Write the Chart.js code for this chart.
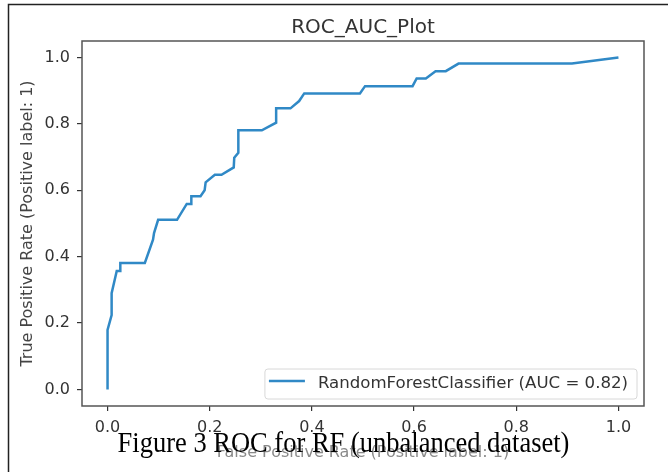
<!DOCTYPE html>
<html>
<head>
<meta charset="utf-8">
<title>ROC_AUC_Plot</title>
<script src="https://cdn.jsdelivr.net/npm/chart.js@4"></script>
<style>
  html, body { margin: 0; padding: 0; background: #fff; }
  #wrap { width: 668px; height: 472px; }
</style>
</head>
<body>
<div id="wrap"><canvas id="roc" width="668" height="472"></canvas></div>
<script>
// ROC curve (false positive rate, true positive rate)
const fpr = [0, 0, 0.008, 0.008, 0.018, 0.025, 0.025, 0.073, 0.089, 0.091, 0.099, 0.136,
  0.155, 0.164, 0.164, 0.182, 0.190, 0.192, 0.210, 0.223, 0.247, 0.248, 0.256, 0.256,
  0.302, 0.330, 0.330, 0.358, 0.375, 0.385, 0.494, 0.504, 0.597, 0.605, 0.623, 0.642,
  0.662, 0.687, 0.909, 1.0];
const tpr = [0, 0.179, 0.224, 0.290, 0.357, 0.357, 0.381, 0.381, 0.451, 0.471, 0.511, 0.511,
  0.559, 0.559, 0.582, 0.582, 0.600, 0.624, 0.647, 0.647, 0.669, 0.698, 0.713, 0.781,
  0.781, 0.804, 0.847, 0.847, 0.869, 0.892, 0.892, 0.914, 0.914, 0.937, 0.937, 0.959,
  0.959, 0.982, 0.982, 1.0];
const xTicks = [0, 0.2, 0.4, 0.6, 0.8, 1.0];
const yTicks = [0, 0.2, 0.4, 0.6, 0.8, 1.0];
const seriesLabel = 'RandomForestClassifier (AUC = 0.82)';
const plotTitle = 'ROC_AUC_Plot';
const caption = 'Figure 3 ROC for RF (unbalanced dataset)';

const FONT = "'DejaVu Sans', sans-serif";
const LINE = '#3089c6';

// page frame, title and axes box
const framePlugin = {
  id: 'frame',
  beforeDraw(chart) {
    const c = chart.ctx;
    const a = chart.chartArea;
    c.save();
    c.strokeStyle = '#222';
    c.lineWidth = 1.5;
    c.beginPath();
    c.moveTo(8.5, 472);
    c.lineTo(8.5, 4.5);
    c.lineTo(668, 4.5);
    c.stroke();
    c.font = '20px ' + FONT;
    c.fillStyle = '#333';
    c.textAlign = 'center';
    c.textBaseline = 'alphabetic';
    c.fillText(plotTitle, (a.left + a.right) / 2, 33);
    c.restore();
  },
  afterDatasetsDraw(chart) {
    const a = chart.chartArea;
    const c = chart.ctx;
    c.save();
    c.strokeStyle = '#555';
    c.lineWidth = 1.5;
    c.strokeRect(a.left, a.top, a.right - a.left, a.bottom - a.top);
    c.restore();
  }
};

// matplotlib style legend in the lower right corner
const legendPlugin = {
  id: 'mplLegend',
  afterDraw(chart) {
    const c = chart.ctx;
    const a = chart.chartArea;
    const ds = chart.data.datasets[0];
    c.save();
    c.font = '16.6px ' + FONT;
    const tw = c.measureText(ds.label).width;
    const w = tw + 62, h = 30;
    const x = a.right - 7 - w, y = a.bottom - 7 - h;
    c.beginPath();
    c.roundRect(x, y, w, h, 3);
    c.fillStyle = 'rgba(255,255,255,0.85)';
    c.fill();
    c.strokeStyle = '#d8d8d8';
    c.lineWidth = 1;
    c.stroke();
    c.strokeStyle = ds.borderColor;
    c.lineWidth = ds.borderWidth;
    c.beginPath();
    c.moveTo(x + 4, y + 12);
    c.lineTo(x + 40, y + 12);
    c.stroke();
    c.fillStyle = '#333';
    c.textBaseline = 'middle';
    c.fillText(ds.label, x + 53, y + 15);
    c.restore();
  }
};

// figure caption pasted over the x axis label (glyphs a bit taller than wide)
const captionPlugin = {
  id: 'caption',
  afterDraw(chart) {
    const c = chart.ctx;
    c.save();
    c.translate(343.5, 452);
    c.scale(1, 1.15);
    c.font = "26.5px 'Liberation Serif', 'Times New Roman', serif";
    c.fillStyle = '#000';
    c.textAlign = 'center';
    c.textBaseline = 'alphabetic';
    c.fillText(caption, 0, 0);
    c.restore();
  }
};

const points = fpr.map((x, i) => ({ x: x, y: tpr[i] }));

new Chart(document.getElementById('roc'), {
  type: 'line',
  data: {
    datasets: [{
      label: seriesLabel,
      data: points,
      borderColor: LINE,
      borderWidth: 2.5,
      pointRadius: 0,
      tension: 0,
      fill: false
    }]
  },
  options: {
    responsive: false,
    animation: false,
    layout: { padding: { left: 18, right: 24, top: 41, bottom: 0 } },
    plugins: {
      legend: { display: false },
      tooltip: { enabled: false },
      title: { display: false }
    },
    scales: {
      x: {
        type: 'linear',
        min: -0.05,
        max: 1.05,
        afterBuildTicks: (s) => { s.ticks = xTicks.map((v) => ({ value: v })); },
        afterFit: (s) => { s.height = 66; },
        ticks: {
          color: '#333',
          padding: 7,
          maxRotation: 0,
          font: { family: FONT, size: 16 },
          callback: (v) => Number(v).toFixed(1)
        },
        grid: { drawOnChartArea: false, drawTicks: true, tickLength: 5, color: '#333', lineWidth: 1.2 },
        border: { display: false },
        title: {
          display: true,
          text: 'False Positive Rate (Positive label: 1)',
          color: '#8a8a8a',
          font: { family: FONT, size: 16 },
          padding: { top: 10, bottom: 10 }
        }
      },
      y: {
        type: 'linear',
        min: -0.05,
        max: 1.05,
        afterBuildTicks: (s) => { s.ticks = yTicks.map((v) => ({ value: v })); },
        afterFit: (s) => { s.width = 64; },
        ticks: {
          color: '#333',
          padding: 7,
          font: { family: FONT, size: 16 },
          callback: (v) => Number(v).toFixed(1)
        },
        grid: { drawOnChartArea: false, drawTicks: true, tickLength: 5, color: '#333', lineWidth: 1.2 },
        border: { display: false },
        title: {
          display: true,
          text: 'True Positive Rate (Positive label: 1)',
          color: '#444',
          font: { family: FONT, size: 16 },
          padding: { top: 0, bottom: 0 }
        }
      }
    }
  },
  plugins: [framePlugin, legendPlugin, captionPlugin]
});
</script>
</body>
</html>
